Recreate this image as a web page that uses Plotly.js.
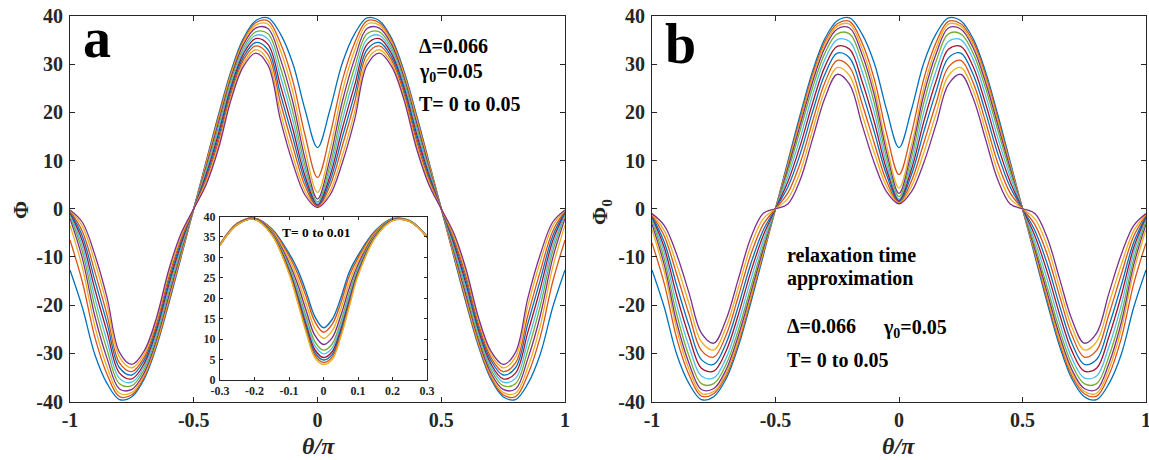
<!DOCTYPE html>
<html>
<head>
<meta charset="utf-8">
<script src="https://cdn.plot.ly/plotly-3.0.1.min.js"></script>
<style>html,body{margin:0;padding:0;background:#fff;}#chart{width:1149px;height:460px;}</style>
</head>
<body>
<div id="chart"></div>
<script>
// ---------- data ----------
const theta = [-1,-0.95,-0.9,-0.85,-0.8,-0.75,-0.7,-0.65,-0.6,-0.55,-0.5,-0.45,-0.4,-0.35,-0.3,-0.25,-0.2,-0.15,-0.1,-0.05,0,0.05,0.1,0.15,0.2,0.25,0.3,0.35,0.4,0.45,0.5,0.55,0.6,0.65,0.7,0.75,0.8,0.85,0.9,0.95,1];

// panel a : Phi, T = 0 ... 0.05
const phiA0 = [-12.7,-20.5,-30.2,-36.3,-39.6,-39.0,-35.3,-28.5,-19.5,-9.8,0,9.8,19.5,28.5,35.3,39.0,39.6,36.3,30.2,20.5,12.7,20.5,30.2,36.3,39.6,39.0,35.3,28.5,19.5,9.8,0,-9.8,-19.5,-28.5,-35.3,-39.0,-39.6,-36.3,-30.2,-20.5,-12.7];
const phiA1 = [-6.5,-15.2,-26.6,-34.4,-39.0,-38.6,-34.9,-28.1,-19.1,-9.5,0,9.5,19.1,28.1,34.9,38.6,39.0,34.4,26.6,15.2,6.5,15.2,26.6,34.4,39.0,38.6,34.9,28.1,19.1,9.5,0,-9.5,-19.1,-28.1,-34.9,-38.6,-39.0,-34.4,-26.6,-15.2,-6.5];
const phiA2 = [-3.4,-12.2,-24.3,-32.9,-38.3,-38.1,-34.5,-27.7,-18.6,-9.2,0,9.2,18.6,27.7,34.5,38.1,38.3,32.9,24.3,12.2,3.4,12.2,24.3,32.9,38.3,38.1,34.5,27.7,18.6,9.2,0,-9.2,-18.6,-27.7,-34.5,-38.1,-38.3,-32.9,-24.3,-12.2,-3.4];
const phiA3 = [-2.0,-10.3,-22.2,-31.1,-37.4,-37.5,-34.0,-27.1,-17.9,-8.7,0,8.7,17.9,27.1,34.0,37.5,37.4,31.1,22.2,10.3,2.0,10.3,22.2,31.1,37.4,37.5,34.0,27.1,17.9,8.7,0,-8.7,-17.9,-27.1,-34.0,-37.5,-37.4,-31.1,-22.2,-10.3,-2.0];
const phiA4 = [-1.4,-8.9,-20.2,-29.3,-36.3,-36.7,-33.3,-26.5,-17.1,-8.2,0,8.2,17.1,26.5,33.3,36.7,36.3,29.3,20.2,8.9,1.4,8.9,20.2,29.3,36.3,36.7,33.3,26.5,17.1,8.2,0,-8.2,-17.1,-26.5,-33.3,-36.7,-36.3,-29.3,-20.2,-8.9,-1.4];
const phiA5 = [-1.1,-7.8,-18.4,-27.5,-35.2,-36.0,-32.7,-25.8,-16.4,-7.7,0,7.7,16.4,25.8,32.7,36.0,35.2,27.5,18.4,7.8,1.1,7.8,18.4,27.5,35.2,36.0,32.7,25.8,16.4,7.7,0,-7.7,-16.4,-25.8,-32.7,-36.0,-35.2,-27.5,-18.4,-7.8,-1.1];
const phiA6 = [-0.8,-6.7,-16.6,-25.6,-34.1,-35.3,-32.1,-25.1,-15.6,-7.1,0,7.1,15.6,25.1,32.1,35.3,34.1,25.6,16.6,6.7,0.8,6.7,16.6,25.6,34.1,35.3,32.1,25.1,15.6,7.1,0,-7.1,-15.6,-25.1,-32.1,-35.3,-34.1,-25.6,-16.6,-6.7,-0.8];
const phiA7 = [-0.6,-5.7,-14.8,-23.8,-33.0,-34.5,-31.4,-24.5,-14.8,-6.6,0,6.6,14.8,24.5,31.4,34.5,33.0,23.8,14.8,5.7,0.6,5.7,14.8,23.8,33.0,34.5,31.4,24.5,14.8,6.6,0,-6.6,-14.8,-24.5,-31.4,-34.5,-33.0,-23.8,-14.8,-5.7,-0.6];
const phiA8 = [-0.45,-4.7,-13.0,-22.1,-32.0,-33.8,-30.8,-23.8,-14.0,-6.1,0,6.1,14.0,23.8,30.8,33.8,32.0,22.1,13.0,4.7,0.45,4.7,13.0,22.1,32.0,33.8,30.8,23.8,14.0,6.1,0,-6.1,-14.0,-23.8,-30.8,-33.8,-32.0,-22.1,-13.0,-4.7,-0.45];
const phiA9 = [-0.3,-3.6,-11.0,-20.1,-30.8,-33.0,-30.1,-23.1,-13.2,-5.5,0,5.5,13.2,23.1,30.1,33.0,30.8,20.1,11.0,3.6,0.3,3.6,11.0,20.1,30.8,33.0,30.1,23.1,13.2,5.5,0,-5.5,-13.2,-23.1,-30.1,-33.0,-30.8,-20.1,-11.0,-3.6,-0.3];
const phiA10 = [-0.25,-2.8,-9.5,-18.5,-29.8,-32.3,-29.5,-22.5,-12.5,-5.0,0,5.0,12.5,22.5,29.5,32.3,29.8,18.5,9.5,2.8,0.25,2.8,9.5,18.5,29.8,32.3,29.5,22.5,12.5,5.0,0,-5.0,-12.5,-22.5,-29.5,-32.3,-29.8,-18.5,-9.5,-2.8,-0.25];

// panel b : Phi_0 (relaxation time approximation), T = 0 ... 0.05
const phiB0 = [-12.7,-20.5,-30.2,-36.3,-39.6,-39.0,-35.3,-28.5,-19.5,-9.8,0,9.8,19.5,28.5,35.3,39.0,39.6,36.3,30.2,20.5,12.7,20.5,30.2,36.3,39.6,39.0,35.3,28.5,19.5,9.8,0,-9.8,-19.5,-28.5,-35.3,-39.0,-39.6,-36.3,-30.2,-20.5,-12.7];
const phiB1 = [-7.1,-15.6,-26.9,-34.5,-38.9,-38.4,-34.7,-27.8,-18.8,-9.3,0,9.3,18.8,27.8,34.7,38.4,38.9,34.5,26.9,15.6,7.1,15.6,26.9,34.5,38.9,38.4,34.7,27.8,18.8,9.3,0,-9.3,-18.8,-27.8,-34.7,-38.4,-38.9,-34.5,-26.9,-15.6,-7.1];
const phiB2 = [-4.3,-13.1,-25.0,-33.3,-38.3,-37.9,-34.1,-27.2,-18.2,-9.0,0,9.0,18.2,27.2,34.1,37.9,38.3,33.3,25.0,13.1,4.3,13.1,25.0,33.3,38.3,37.9,34.1,27.2,18.2,9.0,0,-9.0,-18.2,-27.2,-34.1,-37.9,-38.3,-33.3,-25.0,-13.1,-4.3];
const phiB3 = [-3.2,-11.7,-23.6,-32.1,-37.5,-37.3,-33.4,-26.3,-17.4,-8.4,0,8.4,17.4,26.3,33.4,37.3,37.5,32.1,23.6,11.7,3.2,11.7,23.6,32.1,37.5,37.3,33.4,26.3,17.4,8.4,0,-8.4,-17.4,-26.3,-33.4,-37.3,-37.5,-32.1,-23.6,-11.7,-3.2];
const phiB4 = [-2.5,-10.5,-21.9,-30.6,-36.3,-36.3,-32.3,-25.1,-16.3,-7.7,0,7.7,16.3,25.1,32.3,36.3,36.3,30.6,21.9,10.5,2.5,10.5,21.9,30.6,36.3,36.3,32.3,25.1,16.3,7.7,0,-7.7,-16.3,-25.1,-32.3,-36.3,-36.3,-30.6,-21.9,-10.5,-2.5];
const phiB5 = [-2.0,-9.2,-20.0,-28.6,-34.7,-35.1,-31.0,-23.6,-14.7,-6.7,0,6.7,14.7,23.6,31.0,35.1,34.7,28.6,20.0,9.2,2.0,9.2,20.0,28.6,34.7,35.1,31.0,23.6,14.7,6.7,0,-6.7,-14.7,-23.6,-31.0,-35.1,-34.7,-28.6,-20.0,-9.2,-2.0];
const phiB6 = [-1.7,-8.1,-18.0,-26.5,-33.1,-33.7,-29.5,-21.9,-13.1,-5.6,0,5.6,13.1,21.9,29.5,33.7,33.1,26.5,18.0,8.1,1.7,8.1,18.0,26.5,33.1,33.7,29.5,21.9,13.1,5.6,0,-5.6,-13.1,-21.9,-29.5,-33.7,-33.1,-26.5,-18.0,-8.1,-1.7];
const phiB7 = [-1.5,-7.0,-15.9,-24.3,-31.3,-32.3,-27.9,-20.1,-11.4,-4.5,0,4.5,11.4,20.1,27.9,32.3,31.3,24.3,15.9,7.0,1.5,7.0,15.9,24.3,31.3,32.3,27.9,20.1,11.4,4.5,0,-4.5,-11.4,-20.1,-27.9,-32.3,-31.3,-24.3,-15.9,-7.0,-1.5];
const phiB8 = [-1.3,-5.7,-13.6,-21.9,-29.4,-30.8,-26.2,-18.1,-9.5,-3.3,0,3.3,9.5,18.1,26.2,30.8,29.4,21.9,13.6,5.7,1.3,5.7,13.6,21.9,29.4,30.8,26.2,18.1,9.5,3.3,0,-3.3,-9.5,-18.1,-26.2,-30.8,-29.4,-21.9,-13.6,-5.7,-1.3];
const phiB9 = [-1.15,-4.6,-11.6,-19.7,-27.6,-29.3,-24.6,-16.3,-7.7,-2.1,0,2.1,7.7,16.3,24.6,29.3,27.6,19.7,11.6,4.6,1.15,4.6,11.6,19.7,27.6,29.3,24.6,16.3,7.7,2.1,0,-2.1,-7.7,-16.3,-24.6,-29.3,-27.6,-19.7,-11.6,-4.6,-1.15];
const phiB10 = [-1.0,-3.5,-9.5,-17.5,-25.8,-27.9,-23.0,-14.5,-6.0,-1.0,0,1.0,6.0,14.5,23.0,27.9,25.8,17.5,9.5,3.5,1.0,3.5,9.5,17.5,25.8,27.9,23.0,14.5,6.0,1.0,0,-1.0,-6.0,-14.5,-23.0,-27.9,-25.8,-17.5,-9.5,-3.5,-1.0];

// inset of panel a : T = 0 ... 0.01
const thetaInset = [-0.3,-0.25,-0.2,-0.15,-0.1,-0.075,-0.05,-0.025,0,0.025,0.05,0.075,0.1,0.15,0.2,0.25,0.3];
const insetPhi0 = [33.2,38.3,39.6,37.0,31.0,27.0,21.5,15.5,12.8,14.8,20.0,26.5,30.5,36.5,39.5,39.0,35.1];
const insetPhi1 = [33.2,38.3,39.6,36.8,30.4,26.0,20.3,14.3,11.7,13.6,18.8,25.5,29.9,36.3,39.4,39.0,35.1];
const insetPhi2 = [33.1,38.2,39.5,36.6,29.6,24.7,18.6,12.6,10.2,12.0,17.3,24.0,29.1,36.0,39.4,38.9,35.1];
const insetPhi3 = [33.1,38.2,39.5,36.3,28.7,23.4,16.9,10.9,8.7,10.3,15.7,22.6,28.2,35.7,39.3,38.9,35.1];
const insetPhi4 = [33.1,38.1,39.4,36.1,27.9,22.1,15.4,9.4,7.3,8.8,14.2,21.3,27.4,35.5,39.2,38.9,35.0];
const insetPhi5 = [33.1,38.1,39.4,35.9,27.4,21.3,14.4,8.4,6.4,7.8,13.3,20.5,26.9,35.3,39.1,38.9,35.0];
const insetPhi6 = [33.0,38.1,39.4,35.8,26.9,20.5,13.4,7.4,5.5,6.9,12.3,19.6,26.4,35.1,39.1,38.8,35.0];
const insetPhi7 = [33.0,38.0,39.3,35.7,26.6,20.0,12.7,6.7,4.9,6.2,11.7,19.0,26.1,35.0,39.1,38.8,35.0];
const insetPhi8 = [33.0,38.0,39.3,35.6,26.3,19.5,12.1,6.1,4.3,5.6,11.0,18.5,25.8,34.9,39.0,38.8,35.0];
const insetPhi9 = [33.0,38.0,39.3,35.5,26.0,19.0,11.5,5.5,3.8,5.0,10.5,18.0,25.5,34.8,39.0,38.8,35.0];

// tick labels
const xTickVals = [-1,-0.5,0,0.5,1];
const xTickText = ['-1','-0.5','0','0.5','1'];
const yTickVals = [-40,-30,-20,-10,0,10,20,30,40];
const yTickText = ['-40','-30','-20','-10','0','10','20','30','40'];
const insetXTickVals = [-0.3,-0.2,-0.1,0,0.1,0.2,0.3];
const insetXTickText = ['-0.3','-0.2','-0.1','0','0.1','0.2','0.3'];
const insetYTickVals = [0,5,10,15,20,25,30,35,40];
const insetYTickText = ['0','5','10','15','20','25','30','35','40'];

// ---------- drawing ----------
const matlabColors = ['#0072BD','#D95319','#EDB120','#7E2F8E','#77AC30','#4DBEEE','#A2142F'];
const seriesA = [phiA0,phiA1,phiA2,phiA3,phiA4,phiA5,phiA6,phiA7,phiA8,phiA9,phiA10];
const seriesB = [phiB0,phiB1,phiB2,phiB3,phiB4,phiB5,phiB6,phiB7,phiB8,phiB9,phiB10];
const seriesInset = [insetPhi0,insetPhi1,insetPhi2,insetPhi3,insetPhi4,insetPhi5,insetPhi6,insetPhi7,insetPhi8,insetPhi9];

const traces = [];
seriesA.forEach((ys,i)=>traces.push({x:theta,y:ys,xaxis:'x',yaxis:'y',type:'scatter',mode:'lines',
  line:{color:matlabColors[i%7],width:1.3,shape:'spline',smoothing:1},hoverinfo:'skip',showlegend:false}));
seriesB.forEach((ys,i)=>traces.push({x:theta,y:ys,xaxis:'x2',yaxis:'y2',type:'scatter',mode:'lines',
  line:{color:matlabColors[i%7],width:1.3,shape:'spline',smoothing:1},hoverinfo:'skip',showlegend:false}));
seriesInset.forEach((ys,i)=>traces.push({x:thetaInset,y:ys,xaxis:'x3',yaxis:'y3',type:'scatter',mode:'lines',
  line:{color:matlabColors[i%7],width:1.4,shape:'spline',smoothing:1},hoverinfo:'skip',showlegend:false}));

const FONT = 'Liberation Serif, Times New Roman, serif';
const W = 1149, H = 460;
const px = v => v / W;
const py = v => 1 - v / H;

function ax(extra){
  return Object.assign({
    showline:true, linecolor:'#262626', linewidth:1, mirror:'ticks',
    ticks:'inside', ticklen:5, tickwidth:1, tickcolor:'#262626',
    showgrid:false, zeroline:false, fixedrange:true, ticklabeloverflow:'allow',
    tickfont:{family:FONT,size:20,color:'#262626',weight:'bold'}
  }, extra);
}

const mainY = [py(401.5), py(16)];
const layout = {
  width:W, height:H,
  margin:{l:0,r:0,t:0,b:0,pad:0},
  paper_bgcolor:'#ffffff', plot_bgcolor:'#ffffff',
  showlegend:false,
  xaxis: ax({domain:[px(70),px(565)], range:[-1,1], anchor:'y', tickmode:'array', tickvals:xTickVals, ticktext:xTickText, ticklabelstandoff:0}),
  yaxis: ax({domain:mainY, range:[-40,40], anchor:'x', tickmode:'array', tickvals:yTickVals, ticktext:yTickText, ticklabelstandoff:2}),
  xaxis2: ax({domain:[px(652),px(1146)], range:[-1,1], anchor:'y2', tickmode:'array', tickvals:xTickVals, ticktext:xTickText, ticklabelstandoff:0}),
  yaxis2: ax({domain:mainY, range:[-40,40], anchor:'x2', tickmode:'array', tickvals:yTickVals, ticktext:yTickText, ticklabelstandoff:2}),
  xaxis3: ax({domain:[px(220),px(427)], range:[-0.3,0.3], anchor:'y3', ticklen:3, tickmode:'array', tickvals:insetXTickVals, ticktext:insetXTickText,
    tickfont:{family:FONT,size:12,color:'#262626',weight:'bold'}, ticklabelstandoff:0}),
  yaxis3: ax({domain:[py(380),py(216.5)], range:[0,40], anchor:'x3', ticklen:3, tickmode:'array', tickvals:insetYTickVals, ticktext:insetYTickText,
    tickfont:{family:FONT,size:12,color:'#262626',weight:'bold'}, ticklabelstandoff:1}),
  shapes:[
    {type:'rect', xref:'x3', yref:'y3', x0:-0.3, x1:0.3, y0:0, y1:40, fillcolor:'#ffffff', line:{width:0}, layer:'below'}
  ],
  annotations:[]
};

function note(text, x, y, size, opts){
  layout.annotations.push(Object.assign({
    text:text, x:px(x), y:py(y), xref:'paper', yref:'paper', showarrow:false,
    xanchor:'left', yanchor:'middle',
    font:{family:FONT,size:size,color:'#000000',weight:'bold'}
  }, opts||{}));
}
note('a', 97, 38, 56, {xanchor:'center'});
note('b', 680, 44, 56, {xanchor:'center'});
note('Δ=0.066', 417, 46, 20);
note('γ<sub>0</sub>=0.05', 417, 73, 20);
note('T= 0 to 0.05', 417, 104, 20);
note('relaxation time', 785, 255, 20);
note('approximation', 785, 278, 20);
note('Δ=0.066', 785, 326, 20);
note('γ<sub>0</sub>=0.05', 881, 328, 20);
note('T= 0 to 0.05', 785, 360, 20);
note('T= 0 to 0.01', 316, 233, 13.5, {xanchor:'center'});
note('Φ', 20, 210, 22, {xanchor:'center', textangle:-90, font:{family:FONT,size:22,color:'#262626',weight:'bold'}});
note('Φ<sub>0</sub>', 601, 212, 22, {xanchor:'center', textangle:-90, font:{family:FONT,size:22,color:'#262626',weight:'bold'}});
note('θ/π', 318, 446, 24, {xanchor:'center', font:{family:FONT,size:24,color:'#262626',weight:'bold',style:'italic'}});
note('θ/π', 898, 446, 24, {xanchor:'center', font:{family:FONT,size:24,color:'#262626',weight:'bold',style:'italic'}});

Plotly.newPlot('chart', traces, layout, {displayModeBar:false, staticPlot:true});
</script>
</body>
</html>
